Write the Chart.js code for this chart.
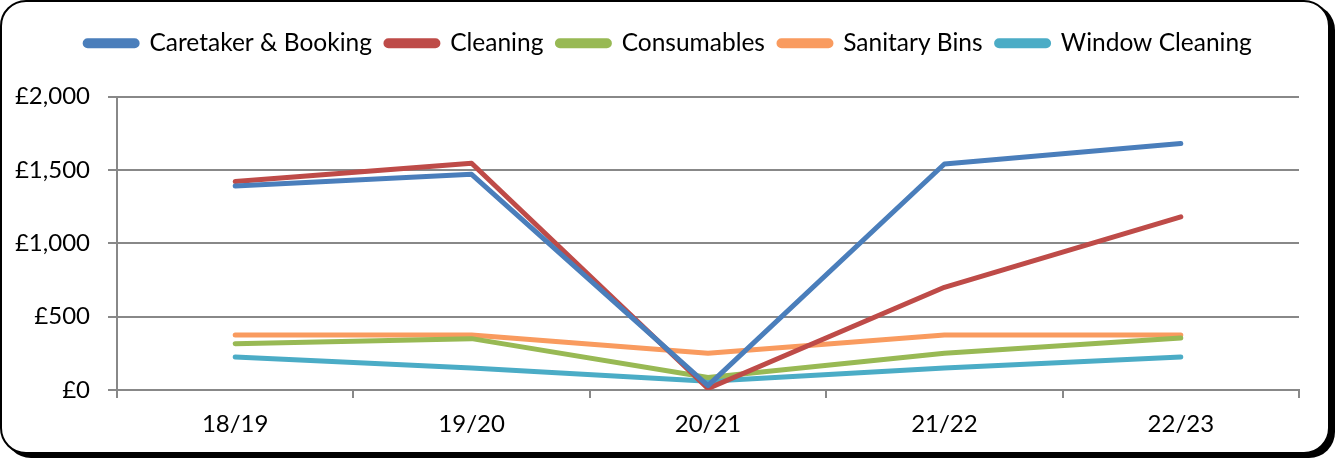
<!DOCTYPE html>
<html>
<head>
<meta charset="utf-8">
<script src="https://cdn.jsdelivr.net/npm/chart.js@4.4.0/dist/chart.umd.min.js"></script>
<style>
  body { margin: 0; background: #fff; }
  #frame {
    position: absolute; left: 0; top: 0;
    width: 1326px; height: 450px;
    border: 2px solid #000; border-radius: 26px;
    box-shadow: 5px 4px 0 #000;
    background: #fff;
  }
  #wrap { position: absolute; left: 0; top: 0; width: 1337px; height: 460px; }
</style>
</head>
<body>
<div id="frame"></div>
<div id="wrap"><canvas id="chart"></canvas></div>
<script>
// data
var years = ["18/19", "19/20", "20/21", "21/22", "22/23"];
var caretaker = [1390, 1470, 30, 1540, 1680];
var cleaning = [1420, 1545, 10, 700, 1180];
var consumables = [315, 350, 85, 250, 355];
var sanitary = [375, 375, 250, 375, 375];
var windowCleaning = [225, 150, 60, 150, 225];

var seriesNames = ["Caretaker & Booking", "Cleaning", "Consumables", "Sanitary Bins", "Window Cleaning"];
var seriesData = [caretaker, cleaning, consumables, sanitary, windowCleaning];
var colors = ["#4A7EBB", "#BE4B48", "#98B954", "#F99B5F", "#4BACC6"];

Chart.defaults.font.family = "Lato, 'Open Sans', sans-serif";
Chart.defaults.color = "#000";

var datasets = seriesNames.map(function (name, i) {
  return {
    label: name,
    data: seriesData[i],
    borderColor: colors[i],
    backgroundColor: colors[i],
    borderWidth: 5,
    pointRadius: 0,
    tension: 0,
    borderCapStyle: "round",
    borderJoinStyle: "round"
  };
});

// more room under the legend, and nudge it right like the original
var legendTweak = {
  id: "legendTweak",
  beforeInit: function (chart) {
    var fit = chart.legend.fit;
    chart.legend.fit = function () {
      fit.bind(chart.legend)();
      this.height += 31;
    };
  },
  afterLayout: function (chart) {
    chart.legend.left += 38;
  }
};

new Chart(document.getElementById("chart"), {
  type: "line",
  data: { labels: years, datasets: datasets },
  plugins: [legendTweak],
  options: {
    responsive: true,
    maintainAspectRatio: false,
    animation: false,
    layout: { padding: { left: 0, right: 38, top: 17, bottom: 0 } },
    plugins: {
      tooltip: { enabled: false },
      legend: {
        position: "top",
        labels: {
          boxWidth: 52,
          boxHeight: 5,
          useBorderRadius: true,
          borderRadius: 2.5,
          padding: 14,
          font: { size: 24.5 },
          color: "#000"
        }
      }
    },
    scales: {
      x: {
        offset: true,
        grid: {
          offset: true,
          drawOnChartArea: false,
          drawTicks: true,
          tickLength: 8,
          color: "#888",
          lineWidth: 2
        },
        border: { color: "#888", width: 2 },
        ticks: { font: { size: 24 }, padding: 12 },
        afterFit: function (s) { s.height = 70; }
      },
      y: {
        min: 0,
        max: 2000,
        grid: {
          color: "#888",
          lineWidth: 2,
          tickLength: 9
        },
        border: { color: "#888", width: 2 },
        ticks: {
          stepSize: 500,
          font: { size: 24 },
          padding: 18,
          callback: function (v) { return "£" + v.toLocaleString("en-GB"); }
        },
        afterFit: function (s) { s.width = 117; }
      }
    }
  }
});
</script>
</body>
</html>
